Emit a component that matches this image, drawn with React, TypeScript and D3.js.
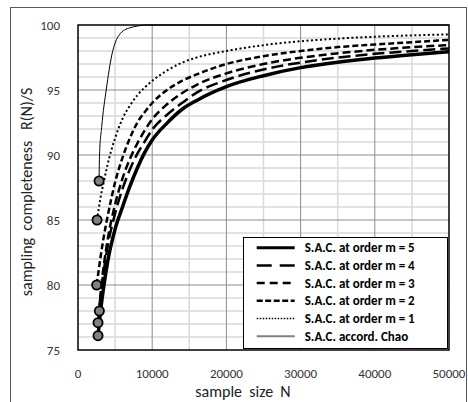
import React from 'react';
import * as d3 from 'd3';

// sample sizes shared by the five S.A.C. curves (after their start point)
const sampleSizes = [3000, 3500, 4000, 5000, 6000, 7000, 8000, 9000, 10000, 12000, 14000, 16000, 20000, 25000, 30000, 35000, 40000, 45000, 50000];

const m5Values = [77.8, 80.0, 81.8, 84.3, 86.0, 87.6, 89.0, 90.2, 91.15, 92.45, 93.5, 94.2, 95.26, 96.1, 96.72, 97.14, 97.46, 97.72, 97.95];
const m4Values = [79.0, 81.2, 83.0, 85.5, 87.4, 88.9, 90.1, 91.05, 91.95, 93.1, 94.0, 94.8, 95.77, 96.58, 97.11, 97.49, 97.78, 98.0, 98.2];
const m3Values = [79.0, 81.6, 83.5, 86.2, 88.2, 89.7, 90.9, 91.9, 92.75, 93.9, 94.75, 95.4, 96.28, 97.0, 97.48, 97.82, 98.09, 98.29, 98.46];
const m2Values = [82.0, 83.8, 85.3, 87.9, 89.8, 91.3, 92.5, 93.3, 94.0, 95.0, 95.7, 96.2, 97.0, 97.6, 98.0, 98.3, 98.5, 98.68, 98.85];
const m1Values = [86.6, 88.0, 89.3, 91.3, 92.8, 93.8, 94.6, 95.2, 95.7, 96.5, 97.1, 97.5, 98.0, 98.45, 98.75, 98.95, 99.1, 99.2, 99.28];

// Chao curve has its own sample sizes
const chaoSizes = [2840, 2900, 3200, 3800, 4600, 5400, 6800, 9500, 50000];
const chaoValues = [88, 90, 92.2, 95, 97.8, 99.1, 99.75, 100, 100];

// start points (the grey circles)
const startSizes = [2700, 2700, 2880, 2520, 2570, 2840];
const startValues = [76.1, 77.1, 78, 80, 85, 88];

const xTicks = [0, 10000, 20000, 30000, 40000, 50000];
const yTicks = [75, 80, 85, 90, 95, 100];

const legendLabels = ['S.A.C. at order m = 5', 'S.A.C. at order m = 4', 'S.A.C. at order m = 3', 'S.A.C. at order m = 2', 'S.A.C. at order m = 1', 'S.A.C. accord. Chao'];

const W = 468, H = 402;
const font = "Carlito, 'Open Sans', sans-serif";

const styles = [
  { width: 3.5, dash: null, lw: 3, ldash: null, color: '#000' },
  { width: 2.5, dash: '12,5', lw: 2.5, ldash: '15,8', color: '#000' },
  { width: 2.5, dash: '8,4', lw: 2.5, ldash: '8,5', color: '#000' },
  { width: 2.5, dash: '6,3', lw: 2.5, ldash: '6,2.5', color: '#000' },
  { width: 2, dash: '2,2.5', lw: 1.5, ldash: '1.5,1.5', color: '#000' },
  { width: 1, dash: null, lw: 2, ldash: null, color: '#808080' },
];

export default function App() {
  const x = d3.scaleLinear().domain([0, 50000]).range([78, 449]);
  const y = d3.scaleLinear().domain([75, 100]).range([350, 25]);

  const line = d3.line<[number, number]>()
    .x(d => x(d[0]))
    .y(d => y(d[1]))
    .curve(d3.curveMonotoneX);

  const sacSeries = [m5Values, m4Values, m3Values, m2Values, m1Values].map((vals, i) => {
    const pts: [number, number][] = [[startSizes[i], startValues[i]]];
    sampleSizes.forEach((n, j) => pts.push([n, vals[j]]));
    return pts;
  });
  const chao: [number, number][] = chaoSizes.map((n, i) => [n, chaoValues[i]]);

  const xMinor = d3.range(5000, 50000, 10000);
  const xMajor = d3.range(10000, 50000, 10000);
  const yMinor = d3.range(76, 100, 1).filter(v => v % 5 !== 0);
  const yMajor = [80, 85, 90, 95];

  const lx0 = 243, ly0 = 237, lw = 204, lh = 111;

  return (
    <div style={{ position: 'absolute', left: 0, top: 0 }}>
      <svg width={W} height={H} style={{ display: 'block', background: '#fff' }}>
        <rect x={10.5} y={7.5} width={456} height={420} fill="#fff" stroke="#595959" strokeWidth={1} />

        {/* grid */}
        {yMinor.map(v => (
          <line key={'ym' + v} x1={x(0)} x2={x(50000)} y1={y(v)} y2={y(v)} stroke="#d9d9d9" strokeWidth={1.5} />
        ))}
        {xMinor.map(v => (
          <line key={'xm' + v} x1={x(v)} x2={x(v)} y1={y(75)} y2={y(100)} stroke="#d9d9d9" strokeWidth={1.5} />
        ))}
        {yMajor.map(v => (
          <line key={'yM' + v} x1={x(0)} x2={x(50000)} y1={y(v)} y2={y(v)} stroke="#8c8c8c" strokeWidth={1} />
        ))}
        {xMajor.map(v => (
          <line key={'xM' + v} x1={x(v)} x2={x(v)} y1={y(75)} y2={y(100)} stroke="#8c8c8c" strokeWidth={1} />
        ))}

        {/* curves */}
        <path d={line(chao) || ''} fill="none" stroke="#000" strokeWidth={1} />
        {sacSeries.map((pts, i) => (
          <path key={'s' + i} d={line(pts) || ''} fill="none" stroke={styles[i].color}
            strokeWidth={styles[i].width} strokeDasharray={styles[i].dash || undefined} />
        ))}

        {/* start points */}
        {startSizes.map((n, i) => (
          <circle key={'c' + i} cx={x(n)} cy={y(startValues[i])} r={4.6} fill="#808080" stroke="#000" strokeWidth={1.8} />
        ))}

        {/* plot border */}
        <rect x={x(0)} y={y(100)} width={x(50000) - x(0)} height={y(75) - y(100)} fill="none" stroke="#000" strokeWidth={1.5} />

        {/* ticks */}
        {yTicks.map(v => (
          <text key={'yt' + v} x={60} y={y(v)} dy="0.35em" textAnchor="end" fontFamily={font} fontSize={13} fill="#333">{v}</text>
        ))}
        {xTicks.map(v => (
          <text key={'xt' + v} x={x(v)} y={373} dy="0.35em" textAnchor="middle" fontFamily={font} fontSize={13} fill="#333">{v}</text>
        ))}

        {/* axis titles */}
        <text x={243} y={397} textAnchor="middle" fontFamily={font} fontSize={16} fill="#222" style={{ whiteSpace: 'pre' }}>{'sample  size  N'}</text>
        <text transform={`translate(32,192) rotate(-90)`} textAnchor="middle" fontFamily={font} fontSize={16} fill="#222" style={{ whiteSpace: 'pre' }}>{'sampling  completeness   R(N)/S'}</text>

        {/* legend */}
        <rect x={lx0 + 0.5} y={ly0 + 0.5} width={lw} height={lh} fill="#fff" stroke="#000" strokeWidth={1} />
        {legendLabels.map((lab, i) => {
          const cy = 247.7 + i * 17.7;
          return (
            <g key={'lg' + i}>
              <line x1={256.7} x2={294.7} y1={cy} y2={cy} stroke={styles[i].color} strokeWidth={styles[i].lw}
                strokeDasharray={styles[i].ldash || undefined} />
              <text x={304.7} y={cy} dy="0.35em" fontFamily={font} fontWeight="bold" fontSize={13} fill="#000">{lab}</text>
            </g>
          );
        })}
      </svg>
    </div>
  );
}
